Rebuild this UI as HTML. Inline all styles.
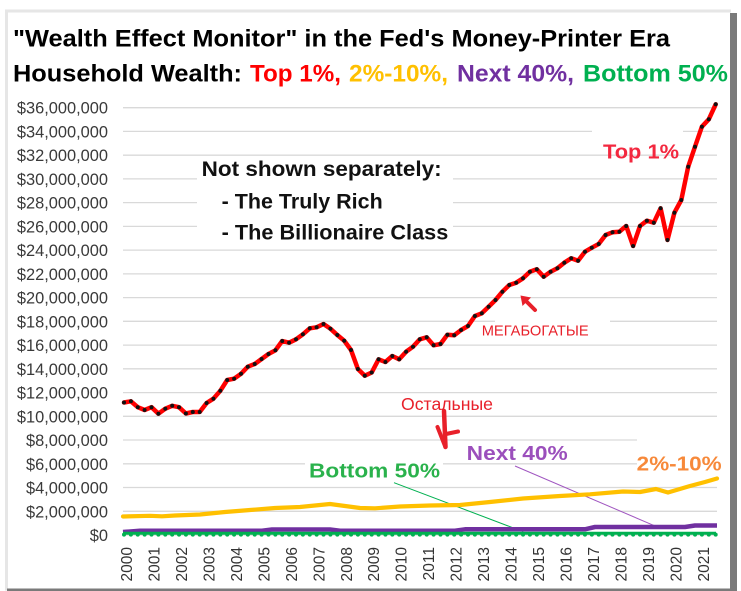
<!DOCTYPE html>
<html><head><meta charset="utf-8"><style>
html,body{margin:0;padding:0;background:#fff;}
svg{display:block;}
text{font-family:"Liberation Sans","Noto Sans CJK SC",sans-serif;}
</style></head><body>
<svg width="741" height="591" viewBox="0 0 741 591" xmlns="http://www.w3.org/2000/svg">
<defs>
<marker id="dk" markerUnits="userSpaceOnUse" markerWidth="6" markerHeight="6" refX="3" refY="3"><circle cx="3" cy="3" r="2" fill="#111"/></marker>
</defs>
<rect x="0" y="0" width="741" height="591" fill="#fff"/>
<!-- frame -->
<rect x="5" y="9.5" width="726" height="3" fill="#e6e6e6"/>
<rect x="5" y="9.5" width="3" height="581" fill="#e6e6e6"/>
<rect x="730" y="13" width="7" height="577" fill="#7a7a7a"/>
<rect x="7" y="588.5" width="730" height="2.5" fill="#7a7a7a"/>

<!-- gridlines -->
<g stroke="#d9d9d9" stroke-width="1.3">
<line x1="123" x2="717" y1="107.7" y2="107.7"/>
<line x1="123" x2="717" y1="131.4" y2="131.4"/>
<line x1="123" x2="717" y1="155.2" y2="155.2"/>
<line x1="123" x2="717" y1="178.9" y2="178.9"/>
<line x1="123" x2="717" y1="202.6" y2="202.6"/>
<line x1="123" x2="717" y1="226.4" y2="226.4"/>
<line x1="123" x2="717" y1="250.1" y2="250.1"/>
<line x1="123" x2="717" y1="273.9" y2="273.9"/>
<line x1="123" x2="717" y1="297.6" y2="297.6"/>
<line x1="123" x2="717" y1="321.3" y2="321.3"/>
<line x1="123" x2="717" y1="345.1" y2="345.1"/>
<line x1="123" x2="717" y1="368.8" y2="368.8"/>
<line x1="123" x2="717" y1="392.6" y2="392.6"/>
<line x1="123" x2="717" y1="416.3" y2="416.3"/>
<line x1="123" x2="717" y1="440" y2="440"/>
<line x1="123" x2="717" y1="463.8" y2="463.8"/>
<line x1="123" x2="717" y1="487.5" y2="487.5"/>
<line x1="123" x2="717" y1="511.3" y2="511.3"/>
<line x1="123" x2="717" y1="535" y2="535"/>
</g>
<!-- text box backgrounds -->
<g fill="#fff">
<rect x="197" y="160" width="256" height="84"/>
<rect x="592" y="125" width="91" height="12"/>
<rect x="495" y="316" width="115" height="24"/>
<rect x="305" y="458" width="138" height="20"/>
<rect x="637" y="436" width="80" height="34"/>
</g>

<!-- y labels -->
<g font-size="16.4" fill="#3a3a3a" text-anchor="end">
<text x="108" y="113.7">$36,000,000</text>
<text x="108" y="137.4">$34,000,000</text>
<text x="108" y="161.2">$32,000,000</text>
<text x="108" y="184.9">$30,000,000</text>
<text x="108" y="208.6">$28,000,000</text>
<text x="108" y="232.4">$26,000,000</text>
<text x="108" y="256.1">$24,000,000</text>
<text x="108" y="279.9">$22,000,000</text>
<text x="108" y="303.6">$20,000,000</text>
<text x="108" y="327.3">$18,000,000</text>
<text x="108" y="351.1">$16,000,000</text>
<text x="108" y="374.8">$14,000,000</text>
<text x="108" y="398.6">$12,000,000</text>
<text x="108" y="422.3">$10,000,000</text>
<text x="108" y="446">$8,000,000</text>
<text x="108" y="469.8">$6,000,000</text>
<text x="108" y="493.5">$4,000,000</text>
<text x="108" y="517.3">$2,000,000</text>
<text x="108" y="541">$0</text>
</g>

<!-- x labels -->
<g font-size="15.5" fill="#333" text-anchor="end">
<text transform="translate(126.5,547) rotate(-90)" x="0" y="5.5">2000</text>
<text transform="translate(154,547) rotate(-90)" x="0" y="5.5">2001</text>
<text transform="translate(181.4,547) rotate(-90)" x="0" y="5.5">2002</text>
<text transform="translate(208.9,547) rotate(-90)" x="0" y="5.5">2003</text>
<text transform="translate(236.4,547) rotate(-90)" x="0" y="5.5">2004</text>
<text transform="translate(263.8,547) rotate(-90)" x="0" y="5.5">2005</text>
<text transform="translate(291.3,547) rotate(-90)" x="0" y="5.5">2006</text>
<text transform="translate(318.8,547) rotate(-90)" x="0" y="5.5">2007</text>
<text transform="translate(346.3,547) rotate(-90)" x="0" y="5.5">2008</text>
<text transform="translate(373.7,547) rotate(-90)" x="0" y="5.5">2009</text>
<text transform="translate(401.2,547) rotate(-90)" x="0" y="5.5">2010</text>
<text transform="translate(428.7,547) rotate(-90)" x="0" y="5.5">2011</text>
<text transform="translate(456.1,547) rotate(-90)" x="0" y="5.5">2012</text>
<text transform="translate(483.6,547) rotate(-90)" x="0" y="5.5">2013</text>
<text transform="translate(511.1,547) rotate(-90)" x="0" y="5.5">2014</text>
<text transform="translate(538.5,547) rotate(-90)" x="0" y="5.5">2015</text>
<text transform="translate(566,547) rotate(-90)" x="0" y="5.5">2016</text>
<text transform="translate(593.5,547) rotate(-90)" x="0" y="5.5">2017</text>
<text transform="translate(621,547) rotate(-90)" x="0" y="5.5">2018</text>
<text transform="translate(648.4,547) rotate(-90)" x="0" y="5.5">2019</text>
<text transform="translate(675.9,547) rotate(-90)" x="0" y="5.5">2020</text>
<text transform="translate(703.4,547) rotate(-90)" x="0" y="5.5">2021</text>
</g>

<!-- leader lines -->
<line x1="394" y1="482.7" x2="523.3" y2="531.7" stroke="#00b050" stroke-width="1"/>
<line x1="515" y1="466" x2="656.7" y2="526.7" stroke="#a056c0" stroke-width="1"/>

<!-- series -->
<polyline fill="none" stroke="#7030a0" stroke-width="4.5" stroke-linejoin="round" points="123,532 140,530.7 262,530.7 272,529.5 330,529.5 340,530.7 455,530.7 465,529.3 585,529.3 595,527 685,527 695,525.5 717,525.5"/>
<line x1="123" y1="533.3" x2="716" y2="533.3" stroke="#00b050" stroke-width="3"/>
<line x1="124" y1="534.6" x2="716" y2="534.6" stroke="#00b050" stroke-width="4" stroke-linecap="round" stroke-dasharray="0 6.88"/>
<polyline fill="none" stroke="#ffc000" stroke-width="4.2" stroke-linejoin="round" stroke-linecap="round" points="123,516.5 150,515.8 162,516.3 175,515.5 200,514.5 225,512 250,510 275,508 300,507 320,505 330,504 345,506 360,508 375,508.3 400,506.5 430,505.5 460,505 490,502 523,498.5 560,496 590,494.3 623,491.5 640,492 656,489 668,492.5 690,486 705,482 717,478.5"/>
<polyline fill="none" stroke="#ff0000" stroke-width="4.5" stroke-linejoin="round" stroke-linecap="round" marker-start="url(#dk)" marker-mid="url(#dk)" marker-end="url(#dk)" points="124,402.5 130.9,401.3 137.8,407.2 144.6,410 151.5,407.2 158.4,413.7 165.3,408.7 172.2,405.8 179,407.2 185.9,413.5 192.8,412 199.7,412 206.6,403 213.4,398.7 220.3,390.8 227.2,380 234.1,378.7 241,373.8 247.8,366.7 254.7,364 261.6,359 268.5,354 275.4,350.3 282.2,341 289.1,342.7 296,339.3 302.9,334.3 309.8,328.3 316.6,327.3 323.5,324 330.4,328.7 337.3,335 344.2,340.7 351,350 357.9,369 364.8,375.7 371.7,372.5 378.6,359.3 385.4,362 392.3,356 399.2,359.3 406.1,351.7 413,346.7 419.8,339.3 426.7,337.3 433.6,345.3 440.5,344 447.4,334.7 454.2,335.3 461.1,330 468,326 474.9,316 481.8,313.3 488.6,306.7 495.5,300 502.4,291.7 509.3,285 516.2,282.7 523,278.3 529.9,271.7 536.8,269.3 543.7,276.7 550.6,271.7 557.4,268.3 564.3,262.7 571.2,258.3 578.1,260.7 585,251.7 591.8,247.7 598.7,244 605.6,235 612.5,232.3 619.4,231.7 626.2,226 633.1,246 640,226 646.9,220.7 653.8,222.7 660.6,208.3 667.5,240 674.4,212.7 681.3,200 688.2,166.7 695,146.7 701.9,126.7 708.8,119.3 715.7,104.3"/>

<!-- title -->
<text x="13" y="46.7" font-size="24" font-weight="bold" fill="#000" textLength="657" lengthAdjust="spacingAndGlyphs">"Wealth Effect Monitor"  in the Fed's Money-Printer  Era</text>
<g font-size="24.5" font-weight="bold">
<text x="13" y="81.5" fill="#000" textLength="229" lengthAdjust="spacingAndGlyphs">Household  Wealth:</text>
<text x="250" y="81.5" fill="#ff0000" textLength="91" lengthAdjust="spacingAndGlyphs">Top 1%,</text>
<text x="349" y="81.5" fill="#ffc000" textLength="99" lengthAdjust="spacingAndGlyphs">2%-10%,</text>
<text x="457" y="81.5" fill="#7030a0" textLength="117" lengthAdjust="spacingAndGlyphs">Next 40%,</text>
<text x="583" y="81.5" fill="#00b050" textLength="145" lengthAdjust="spacingAndGlyphs">Bottom 50%</text>
</g>

<!-- note box -->
<g font-size="21" font-weight="bold" fill="#111">
<text x="201.7" y="176" textLength="240" lengthAdjust="spacingAndGlyphs">Not shown separately:</text>
<text x="221.7" y="208.3" textLength="161" lengthAdjust="spacingAndGlyphs">- The Truly Rich</text>
<text x="221.7" y="239.3" textLength="226.6" lengthAdjust="spacingAndGlyphs">- The Billionaire Class</text>
</g>

<!-- series labels -->
<g font-weight="bold" font-size="20.5">
<text x="603" y="158.3" fill="#f3283f" textLength="76" lengthAdjust="spacingAndGlyphs">Top 1%</text>
<text x="309" y="477.3" fill="#2ab24c" textLength="131" lengthAdjust="spacingAndGlyphs">Bottom 50%</text>
<text x="466.7" y="460" fill="#9b4fbc" textLength="101" lengthAdjust="spacingAndGlyphs">Next 40%</text>
<text x="636.7" y="470.7" fill="#f7893a" textLength="85" lengthAdjust="spacingAndGlyphs">2%-10%</text>
</g>

<!-- russian annotations -->
<text x="401" y="410" font-size="17.5" fill="#e8202a" textLength="92" lengthAdjust="spacingAndGlyphs">Остальные</text>
<text x="481.7" y="335.7" font-size="15" fill="#e8202a" textLength="107" lengthAdjust="spacingAndGlyphs">МЕГАБОГАТЫЕ</text>
<g stroke="#e8202a" stroke-linecap="round" fill="none">
<path d="M444,411 L445.5,447" stroke-width="4.5"/>
<path d="M437.5,427 L445,446" stroke-width="4"/>
<path d="M446,434 L458,431.5" stroke-width="4"/>
<path d="M535,310 L525,300" stroke-width="4"/>
</g>
<polygon points="520.5,295.5 531,297.5 522.5,306" fill="#e8202a"/>
</svg>
</body></html>
